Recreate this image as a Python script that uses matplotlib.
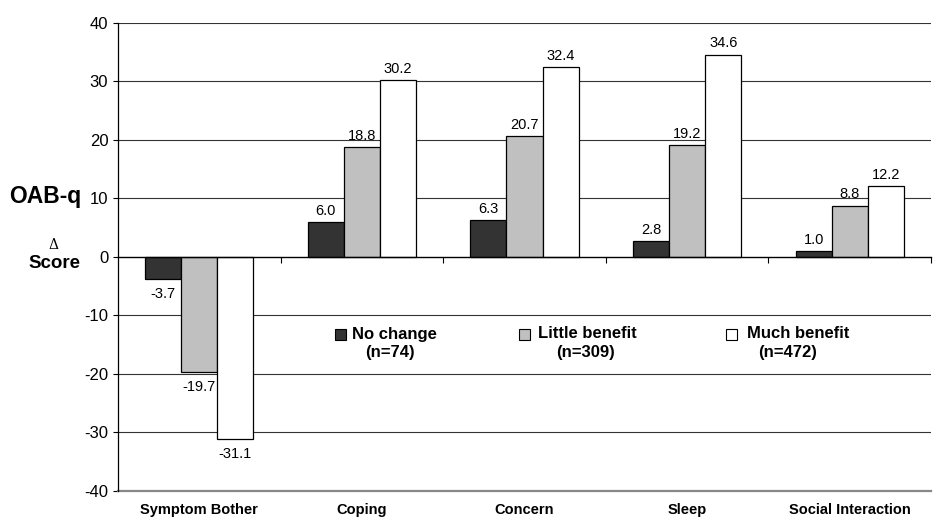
import matplotlib.pyplot as plt
import matplotlib.transforms as mtransforms
from matplotlib.patches import Rectangle
import numpy as np

plt.rcParams['font.family'] = ['Liberation Sans', 'DejaVu Sans']
plt.rcParams['axes.unicode_minus'] = False

categories = ['Symptom Bother', 'Coping', 'Concern', 'Sleep', 'Social Interaction']
no_change = [-3.7, 6.0, 6.3, 2.8, 1.0]
little_benefit = [-19.7, 18.8, 20.7, 19.2, 8.8]
much_benefit = [-31.1, 30.2, 32.4, 34.6, 12.2]
series_names = ['No change', 'Little benefit', 'Much benefit']
series_n = ['(n=74)', '(n=309)', '(n=472)']
colors = ['#333333', '#c0c0c0', '#ffffff']

fig = plt.figure(figsize=(9.38, 5.25), dpi=100)
ax = fig.add_axes([0.1258, 0.0648, 0.8667, 0.8914])

x = np.arange(len(categories))
w = 0.222
series = [no_change, little_benefit, much_benefit]
for i, vals in enumerate(series):
    xs = x + (i - 1) * w
    ax.bar(xs, vals, w, color=colors[i], edgecolor='black', linewidth=0.9, zorder=3)
    for xi, v in zip(xs, vals):
        if v >= 0:
            ax.text(xi, v + 0.7, f'{v:.1f}', ha='center', va='bottom', fontsize=10.5, zorder=4)
        else:
            ax.text(xi, v - 1.4, f'{v:.1f}', ha='center', va='top', fontsize=10.5, zorder=4)

ax.set_xlim(-0.5, len(categories) - 0.5)
ax.set_ylim(-40, 40)
ax.set_yticks(np.arange(-40, 41, 10))
ax.tick_params(axis='y', direction='out', length=3.5, labelsize=12, pad=3.5, width=0.8)
for yv in np.arange(-30, 41, 10):
    if yv != 0:
        ax.axhline(yv, color='#333333', linewidth=0.8, zorder=1)

# category axis crosses at zero
ax.spines['bottom'].set_position(('data', 0))
ax.spines['bottom'].set_linewidth(1.0)
ax.spines['bottom'].set_zorder(5)
ax.spines['top'].set_visible(False)
ax.spines['right'].set_visible(False)
ax.spines['left'].set_linewidth(0.9)
ax.set_xticks(np.arange(0.5, len(categories), 1.0))
ax.set_xticklabels([])
ax.tick_params(axis='x', direction='out', length=4, width=0.8)
ax.axhline(-40, color='#888888', linewidth=1.6, zorder=2, clip_on=False)

trans = mtransforms.blended_transform_factory(ax.transData, ax.transAxes)
for xi, cat in zip(x, categories):
    ax.text(xi, -0.04, cat, transform=trans, ha='center', va='center',
            fontsize=10.5, fontweight='bold')

fig.text(0.010, 1 - 197 / 525, 'OAB-q', fontsize=16.5, fontweight='bold', va='center', ha='left')
fig.text(53 / 938, 1 - 245 / 525, '\u0394', fontsize=10, va='center', ha='center', family=['DejaVu Serif'])
fig.text(54 / 938, 1 - 264 / 525, 'Score', fontsize=13.5, fontweight='bold', va='center', ha='center')

# legend drawn inside the plot
sq_x = [335 / 938, 519 / 938, 726 / 938]
txt_x = [352 / 938, 538 / 938, 747 / 938]
n_x = [390 / 938, 585 / 938, 788 / 938]
for i in range(3):
    fig.patches.append(Rectangle((sq_x[i], 1 - 340 / 525), 11 / 938, 11 / 525,
                                 transform=fig.transFigure, facecolor=colors[i],
                                 edgecolor='black', linewidth=0.8))
    fig.text(txt_x[i], 1 - 334 / 525, series_names[i], fontsize=12, fontweight='bold',
             va='center', ha='left')
    fig.text(n_x[i], 1 - 353 / 525, series_n[i], fontsize=12, fontweight='bold',
             va='center', ha='center')

fig.savefig('out.png', dpi=100)
